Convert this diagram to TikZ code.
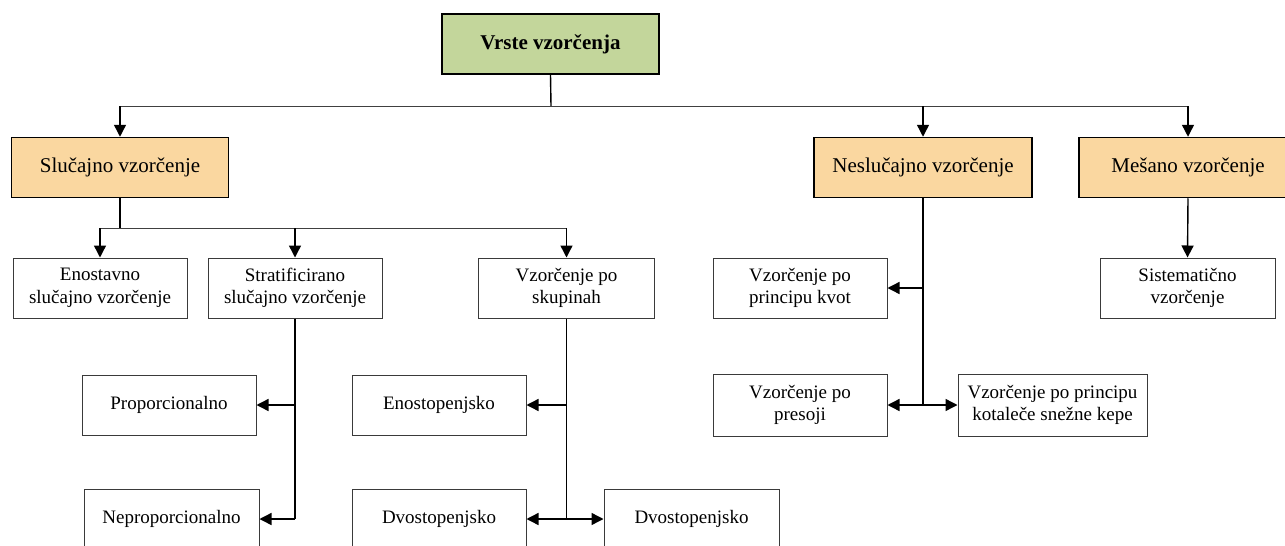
\documentclass[tikz,border=0pt]{standalone}
\usepackage{fontspec}
\setmainfont{Liberation Serif}
\usetikzlibrary{arrows.meta}
\definecolor{rootfill}{HTML}{C3D69B}
\definecolor{catfill}{HTML}{FAD7A0}
\definecolor{edgegray}{HTML}{3A3A3A}
\tikzset{
  rootbox/.style={draw=black, line width=2pt, fill=rootfill, minimum width=217pt,
    minimum height=60pt, inner sep=0pt, font=\fontsize{21}{24}\selectfont\bfseries},
  catbox/.style={draw=black, line width=1.5pt, fill=catfill, minimum width=217pt,
    minimum height=60pt, inner sep=0pt, font=\fontsize{21}{24}\selectfont},
  leafbox/.style={draw=edgegray, line width=1pt, fill=white, minimum width=174pt,
    minimum height=60pt, inner sep=0pt, align=center,
    font=\fontsize{19}{22.5}\selectfont},
  trunk/.style={line width=1.4pt, black},
  bus/.style={line width=1pt, black!75},
  arr/.style={line width=1.4pt, black, -{Triangle[length=12pt,width=12pt]}},
}
\begin{document}
\begin{tikzpicture}[x=1pt, y=-1pt]
\useasboundingbox (0,0) rectangle (1285,546);

% root and the three categories
\node[rootbox] (root) at (550.5,44) {Vrste vzorčenja};
\node[catbox] (sluc) at (120,167.5) {Slučajno vzorčenje};
\node[catbox, minimum width=218pt] (nesluc) at (923,167.5) {Neslučajno vzorčenje};
\node[catbox, minimum width=218pt] (mes) at (1188,167.5) {Mešano vzorčenje};

% second level
\node[leafbox] (enost) at (100,288) {Enostavno\\slučajno vzorčenje};
\node[leafbox] (strat) at (295,288) {Stratificirano\\slučajno vzorčenje};
\node[leafbox, minimum width=176pt] (skup) at (566.5,288) {Vzorčenje po\\skupinah};
\node[leafbox] (kvot) at (800,288) {Vzorčenje po\\principu kvot};
\node[leafbox, minimum width=175pt] (sist) at (1187.5,288) {Sistematično\\vzorčenje};

% third level
\node[leafbox] (prop) at (169,405) {Proporcionalno};
\node[leafbox, minimum width=175pt] (neprop) at (171.5,519) {Neproporcionalno};
\node[leafbox] (enostop) at (439,405) {Enostopenjsko};
\node[leafbox] (dvo1) at (439,519) {Dvostopenjsko};
\node[leafbox, minimum width=175pt] (dvo2) at (691.5,519) {Dvostopenjsko};
\node[leafbox, minimum height=62pt] (pres) at (800,405) {Vzorčenje po\\presoji};
\node[leafbox, minimum width=189pt, minimum height=62pt] (kotal) at (1052.5,405)
  {Vzorčenje po principu\\kotaleče snežne kepe};

% root -> categories
\coordinate (b1) at (551,106);
\draw[trunk] (root.south) -- (b1);
\draw[bus] (sluc.north |- b1) -- (mes.north |- b1);
\draw[arr] (sluc.north |- b1) -- (sluc.north);
\draw[arr] (nesluc.north |- b1) -- (nesluc.north);
\draw[arr] (mes.north |- b1) -- (mes.north);

% random sampling branch
\coordinate (b2) at (120,228);
\draw[trunk] (sluc.south) -- (b2);
\draw[bus] (enost.north |- b2) -- (skup.north |- b2);
\draw[arr] (enost.north |- b2) -- (enost.north);
\draw[arr] (strat.north |- b2) -- (strat.north);
\draw[arr] (skup.north |- b2) -- (skup.north);

% stratified
\draw[trunk] (strat.south) -- (strat.south |- neprop.east);
\draw[arr] (strat.south |- prop.east) -- (prop.east);
\draw[arr] (strat.south |- neprop.east) -- (neprop.east);

% cluster
\draw[trunk] (skup.south) -- (skup.south |- dvo1.east);
\draw[arr] (skup.south |- enostop.east) -- (enostop.east);
\draw[arr] (skup.south |- dvo1.east) -- (dvo1.east);
\draw[arr] (skup.south |- dvo2.west) -- (dvo2.west);

% non-random
\draw[trunk] (nesluc.south) -- (nesluc.south |- pres.east);
\draw[arr] (nesluc.south |- kvot.east) -- (kvot.east);
\draw[arr] (nesluc.south |- pres.east) -- (pres.east);
\draw[arr] (nesluc.south |- kotal.west) -- (kotal.west);

% mixed
\draw[arr] (mes.south) -- (sist.north);
\end{tikzpicture}
\end{document}
